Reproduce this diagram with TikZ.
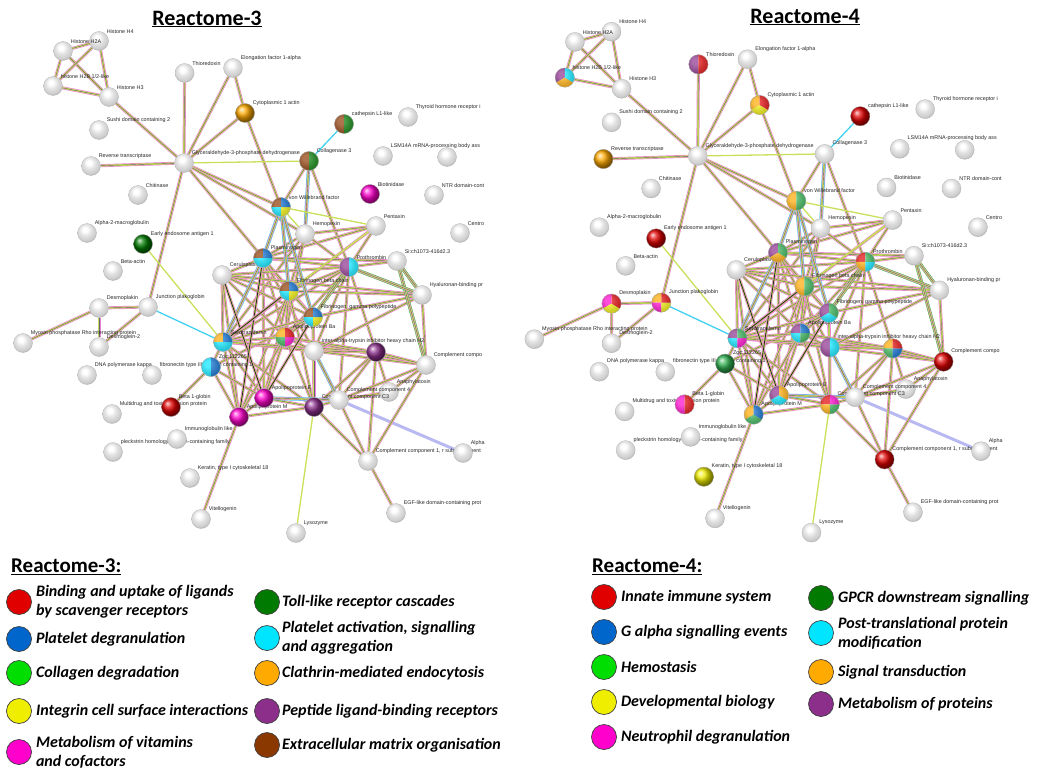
\documentclass[tikz,border=0pt]{standalone}
\usepackage{fontspec}
\setmainfont{Carlito}
\newfontfamily\lblfont{Liberation Sans}
\usetikzlibrary{positioning, backgrounds}
\definecolor{LgRed}{HTML}{E00000}
\definecolor{LgBlue}{HTML}{0066CC}
\definecolor{LgGreen}{HTML}{00DD00}
\definecolor{LgYellow}{HTML}{F0EE00}
\definecolor{LgMagenta}{HTML}{FF00CC}
\definecolor{LgDkGreen}{HTML}{007A00}
\definecolor{LgCyan}{HTML}{00E5FF}
\definecolor{LgOrange}{HTML}{FFAA00}
\definecolor{LgPurple}{HTML}{8B2F8B}
\definecolor{LgBrown}{HTML}{8B3800}
\definecolor{NdGreen}{HTML}{30B050}
\definecolor{EdPink}{HTML}{F07CE0}
\definecolor{EdYg}{HTML}{C8E05A}
\definecolor{EdGrey}{HTML}{666666}
\definecolor{EdCyan}{HTML}{40D0F0}
\definecolor{EdGreen}{HTML}{3CC83C}
\definecolor{EdBlue}{HTML}{8080E8}

\pgfdeclareradialshading{protball}{\pgfqpoint{-6bp}{10bp}}{%
  color(0bp)=(white); color(6bp)=(white); color(16bp)=(black!12);
  color(26bp)=(black!20); color(33bp)=(black!36); color(60bp)=(black!50)}

\tikzset{
  prot/.style={circle, minimum size=19pt, inner sep=0pt, shading=protball,
    draw=gray!60, line width=0.3pt},
  lbl/.style={font=\lblfont\fontsize{5.4}{5.4}\selectfont, text=black!85, inner sep=0.8pt},
  lk/.style={draw=EdGrey, line width=0.4pt, preaction={draw=EdPink, line width=3pt},
    preaction={draw=EdYg, line width=1.8pt}},
  lkc/.style={draw=EdGrey, line width=0.4pt, preaction={draw=EdCyan, line width=3.6pt},
    preaction={draw=EdPink, line width=2.6pt}, preaction={draw=EdYg, line width=1.6pt}},
  lkn/.style={draw=EdGrey, line width=0.4pt, preaction={draw=EdGreen, line width=3.6pt},
    preaction={draw=EdPink, line width=2.6pt}, preaction={draw=EdYg, line width=1.6pt}},
  lkd/.style={draw=black!85, line width=0.8pt, preaction={draw=EdPink, line width=3pt},
    preaction={draw=EdYg, line width=1.8pt}},
  lky/.style={draw=EdYg, line width=1.3pt},
  lkcy/.style={draw=EdCyan, line width=1.3pt},
  lkb/.style={draw=EdBlue, line width=3pt, opacity=0.55},
  ttl/.style={font=\bfseries\fontsize{22}{24}\selectfont, inner sep=1pt},
  legttl/.style={font=\bfseries\fontsize{21}{23}\selectfont, inner sep=1pt, anchor=west},
  legdot/.style={circle, minimum size=25pt, inner sep=0pt, draw=black!75, line width=0.7pt},
  legtxt/.style={font=\bfseries\itshape\fontsize{16}{19}\selectfont, align=left, inner sep=1pt}
}

% coloured pie over a protein node: node, number of parts, colours
\newcommand\pienode[3]{%
  \foreach \sc [count=\k from 0] in {#3} {
    \fill[\sc] (#1.center) -- ++({90+\k*360/#2}:9.5pt)
      arc[start angle={90+\k*360/#2}, delta angle={360/#2}, radius=9.5pt] -- cycle;
  }
  \shade[ball color=white, opacity=0.3] (#1.center) circle[radius=9.5pt];
  \draw[gray!60, line width=0.3pt] (#1.center) circle[radius=9.5pt];
}
\newcommand\ballnode[2]{%
  \shade[ball color=#2] (#1.center) circle[radius=9.5pt];
  \draw[gray!60, line width=0.3pt] (#1.center) circle[radius=9.5pt];
}

% the STRING network, #1 = prefix of the node names
\newcommand\drawnet[1]{%
  \node[prot, label={[lbl]45:Histone H4}] (#1h4) at (99,41) {};
  \node[prot, label={[lbl]45:Histone H2A}] (#1h2a) at (63,51) {};
  \node[prot, label={[lbl]45:histone H2B 1/2-like}] (#1h2b) at (53,86) {};
  \node[prot, label={[lbl]45:Histone H3}] (#1h3) at (109,97) {};
  \node[prot, label={[lbl]45:Thioredoxin}] (#1trx) at (184.6,73) {};
  \node[prot, label={[lbl]45:Elongation factor 1-alpha}] (#1ef1a) at (233,68) {};
  \node[prot, label={[lbl]45:Cytoplasmic 1 actin}] (#1actc) at (245,113) {};
  \node[prot, label={[lbl]45:Sushi domain containing 2}] (#1sushi) at (99,130) {};
  \node[prot, label={[lbl]45:cathepsin L1-like}] (#1ctsl) at (344,124) {};
  \node[prot, label={[lbl]45:Thyroid hormone receptor i}] (#1thr) at (408,117) {};
  \node[prot, label={[lbl]45:Reverse transcriptase}] (#1rt) at (91,166) {};
  \node[prot, label={[lbl]45:Glyceraldehyde-3-phosphate dehydrogenase}] (#1gapdh) at (184,163) {};
  \node[prot, label={[lbl]45:Collagenase 3}] (#1col3) at (309,161) {};
  \node[prot, label={[lbl]45:LSM14A mRNA-processing body ass}] (#1lsm) at (383,156) {};
  \node[prot] (#1lsmb) at (447,157) {};
  \node[prot, label={[lbl]45:Chitinase}] (#1chit) at (138,195) {};
  \node[prot, label={[lbl]45:Biotinidase}] (#1btd) at (370,194) {};
  \node[prot, label={[lbl]45:NTR domain-cont}] (#1ntr) at (434,195) {};
  \node[prot, label={[lbl]45:von Willebrand factor}] (#1vwf) at (281,207) {};
  \node[prot, label={[lbl]45:Alpha-2-macroglobulin}] (#1a2m) at (87,233) {};
  \node[prot, label={[lbl]45:Early endosome antigen 1}] (#1eea1) at (143,244) {};
  \node[prot, label={[lbl]45:Hemopexin}] (#1hpx) at (305,234) {};
  \node[prot, label={[lbl]45:Pentaxin}] (#1ptx) at (376,226) {};
  \node[prot, label={[lbl]45:Centro}] (#1centro) at (460,233) {};
  \node[prot, label={[lbl]45:Beta-actin}] (#1bact) at (113,271) {};
  \node[prot, label={[lbl]45:Plasminogen}] (#1plg) at (263,258) {};
  \node[prot, label={[lbl]45:Prothrombin}] (#1f2) at (349,267) {};
  \node[prot, label={[lbl]45:{Si:ch1073-416d2.3}}] (#1sich) at (397,261) {};
  \node[prot, label={[lbl]45:Ceruloplasmin}] (#1cp) at (222,275) {};
  \node[prot, label={[lbl]45:Fibrinogen beta chain}] (#1fgb) at (289,291) {};
  \node[prot, label={[lbl]45:{Fibrinogen, gamma polypeptide}}] (#1fgg) at (313,317) {};
  \node[prot, label={[lbl]45:Hyaluronan-binding pr}] (#1habp) at (422,295) {};
  \node[prot, label={[lbl]45:Desmoplakin}] (#1dsp) at (99,308) {};
  \node[prot, label={[lbl]45:Junction plakoglobin}] (#1jup) at (148,307) {};
  \node[prot, label={[lbl]45:Myosin phosphatase Rho interacting protein}] (#1mprip) at (23,343) {};
  \node[prot, label={[lbl]45:Desmoglein-2}] (#1dsg2) at (99,347) {};
  \node[prot, label={[lbl]45:Serotransferrin}] (#1tf) at (223,342) {};
  \node[prot, label={[lbl]45:Apolipoprotein Ba}] (#1apoba) at (285,337) {};
  \node[prot, label={[lbl]45:inter-alpha-trypsin inhibitor heavy chain H2}] (#1itih) at (314,351) {};
  \node[prot] (#1pcr) at (376,352) {};
  \node[prot, label={[lbl]45:Complement compo}] (#1cpn) at (426,365) {};
  \node[prot, label={[lbl]45:DNA polymerase kappa}] (#1dpk) at (87,375) {};
  \node[prot, label={[lbl]45:fibronectin type III domain containing 1}] (#1fndc) at (152,375) {};
  \node[prot, label={[lbl]45:{Zgc:112265}}] (#1zgc) at (211,367) {};
  \node[prot, label={[lbl]45:Anaphylatoxin}] (#1anaph) at (389,392) {};
  \node[prot, label={[lbl]45:Complement component C3}] (#1c3) at (314,407) {};
  \node[prot, label={[lbl]45:Complement component 4}] (#1c4) at (339,400) {};
  \node[prot, label={[lbl]45:Apolipoprotein M}] (#1apom) at (239,417) {};
  \node[prot, label={[lbl]45:Apolipoprotein E}] (#1apoe) at (264,398) {};
  \node[prot, label={[lbl]45:Multidrug and toxin extrusion protein}] (#1mate) at (112,414) {};
  \node[prot, label={[lbl]45:Beta 1-globin}] (#1hbb) at (171,407) {};
  \node[prot, label={[lbl]45:pleckstrin homology domain-containing family}] (#1plekh) at (113,452) {};
  \node[prot, label={[lbl]45:Immunoglobulin like}] (#1igl) at (177,439) {};
  \node[prot, label={[lbl]45:{Complement component 1, r subcomponent}}] (#1c1r) at (368,461) {};
  \node[prot, label={[lbl]45:Alpha}] (#1alpha) at (463,453) {};
  \node[prot, label={[lbl]45:{Keratin, type I cytoskeletal 18}}] (#1krt) at (190,478) {};
  \node[prot, label={[lbl]45:EGF-like domain-containing prot}] (#1egf) at (396,513) {};
  \node[prot, label={[lbl]45:Vitellogenin}] (#1vtg) at (201,519) {};
  \node[prot, label={[lbl]45:Lysozyme}] (#1lyz) at (296,533) {};
  % interactions
  \begin{scope}[on background layer]
    \draw[lkb] (#1f2) -- (#1habp);
    \draw[lkb] (#1c4) -- (#1alpha);
    \foreach \a/\b in {h2a/h4, h2a/h2b, h2a/h3, h4/h2b, h4/h3, h2b/h3, h3/gapdh,
      trx/gapdh, ef1a/gapdh, ef1a/actc, actc/gapdh, actc/vwf, rt/gapdh, gapdh/vwf,
      gapdh/hpx, gapdh/plg, col3/vwf, col3/f2, ptx/hpx, ptx/plg, ptx/f2, ptx/tf,
      hpx/plg, hpx/f2, hpx/fgb, hpx/apoba, hpx/tf, plg/f2, plg/fgb, plg/fgg,
      plg/apoba, plg/cp, plg/itih, plg/apoe, plg/sich, f2/sich, f2/fgb, f2/tf,
      f2/itih, f2/pcr, f2/c4, f2/apoba, f2/cp, cp/tf, cp/fgb, cp/fgg, cp/apoba,
      cp/habp, cp/apom, fgb/fgg, fgb/tf, fgb/apoba, fgb/habp, fgb/apoe, fgb/apom,
      fgb/c3, fgg/habp, fgg/tf, fgg/apoba, fgg/itih, fgg/c3, fgg/zgc, tf/apoba,
      tf/zgc, tf/itih, tf/apoe, tf/apom, tf/c3, tf/pcr, apoba/itih, apoba/apoe,
      apoba/apom, apoba/c3, apoba/cpn, apoba/pcr, itih/pcr, itih/c3, itih/cpn,
      itih/habp, pcr/cpn, pcr/c4, pcr/c1r, pcr/anaph, pcr/c3, cpn/habp, cpn/c4,
      cpn/c1r, cpn/anaph, c4/c1r, c4/anaph, c3/c4, c3/c1r, c3/apoe, c3/apom,
      c1r/egf, apoe/apom, apoe/zgc, apom/vtg, apom/zgc, hbb/zgc, dsp/jup,
      dsp/dsg2, dsp/mprip, jup/dsg2, gapdh/jup}
      \draw[lk] (#1\a) -- (#1\b);
    \foreach \a/\b in {vwf/plg, vwf/fgb, vwf/fgg, col3/hpx, plg/tf, itih/c4,
      apoe/c4}
      \draw[lkc] (#1\a) -- (#1\b);
    \foreach \a/\b in {sich/habp, sich/cpn, f2/fgg, f2/habp}
      \draw[lkn] (#1\a) -- (#1\b);
    \foreach \a/\b in {cp/apoe, fgg/apoe, plg/apom, tf/fgb}
      \draw[lkd] (#1\a) -- (#1\b);
    \foreach \a/\b in {gapdh/col3, eea1/tf, vwf/ptx, vwf/hpx, c3/lyz, ptx/fgb}
      \draw[lky] (#1\a) -- (#1\b);
    \foreach \a/\b in {ctsl/col3, jup/tf}
      \draw[lkcy] (#1\a) -- (#1\b);
  \end{scope}
}

\begin{document}
\begin{tikzpicture}[x=1pt, y=-1pt]
\useasboundingbox (0,0) rectangle (1051,773);

% Reactome-3 network
\node[ttl] (t3) at (207,19) {\underline{Reactome-3}};
\drawnet{a}
\pienode{actsl}{2}{LgBrown,LgDkGreen}
\pienode{acol3}{2}{LgBrown,LgDkGreen}
\ballnode{aactc}{LgOrange}
\ballnode{abtd}{LgMagenta}
\ballnode{aeea1}{LgDkGreen}
\pienode{avwf}{4}{LgBrown,LgCyan,LgYellow,LgBlue}
\pienode{aplg}{4}{LgBrown,LgCyan,LgCyan,LgBlue}
\pienode{af2}{2}{LgPurple,LgCyan}
\pienode{afgb}{4}{LgBrown,LgCyan,LgYellow,LgBlue}
\pienode{afgg}{4}{LgBrown,LgCyan,LgYellow,LgBlue}
\pienode{atf}{4}{LgOrange,LgCyan,LgCyan,LgBlue}
\pienode{aapoba}{4}{LgOrange,NdGreen,LgMagenta,LgRed}
\pienode{azgc}{2}{LgCyan,LgBlue}
\ballnode{apcr}{LgPurple}
\ballnode{ac3}{LgPurple}
\ballnode{aapom}{LgMagenta}
\ballnode{aapoe}{LgMagenta}
\ballnode{ahbb}{LgRed}

% Reactome-4 network
\node[ttl] (t4) at (805,17) {\underline{Reactome-4}};
\begin{scope}[shift={(511,-10)}, xscale=1.015, yscale=1.018]
\drawnet{b}
\pienode{bh2b}{3}{LgPurple,LgOrange,LgCyan}
\pienode{btrx}{2}{LgPurple,LgRed}
\pienode{bactc}{3}{LgOrange,LgYellow,LgRed}
\ballnode{bctsl}{LgRed}
\ballnode{brt}{LgOrange}
\pienode{bvwf}{2}{LgOrange,NdGreen}
\ballnode{beea1}{LgRed}
\pienode{bplg}{3}{LgPurple,LgOrange,NdGreen}
\pienode{bf2}{4}{LgRed,LgOrange,LgCyan,NdGreen}
\pienode{bfgb}{2}{LgOrange,NdGreen}
\pienode{bfgg}{3}{LgPurple,LgCyan,NdGreen}
\pienode{bdsp}{3}{LgMagenta,LgYellow,LgRed}
\pienode{bjup}{4}{LgOrange,LgMagenta,LgYellow,LgRed}
\pienode{btf}{4}{LgPurple,LgCyan,LgMagenta,NdGreen}
\pienode{bapoba}{4}{LgPurple,LgCyan,NdGreen,LgBlue}
\pienode{bitih}{2}{LgPurple,LgCyan}
\pienode{bpcr}{4}{LgOrange,NdGreen,LgBlue,LgRed}
\ballnode{bcpn}{LgRed}
\ballnode{bzgc}{NdGreen}
\pienode{bc3}{4}{LgRed,LgOrange,NdGreen,LgMagenta}
\pienode{bapom}{3}{LgOrange,NdGreen,LgBlue}
\pienode{bapoe}{3}{LgPurple,LgCyan,LgOrange}
\pienode{bhbb}{2}{LgMagenta,LgRed}
\ballnode{bc1r}{LgRed}
\ballnode{bkrt}{LgYellow}
\end{scope}

% legend Reactome-3
\node[legttl] (lg3) at (10,567) {\underline{Reactome-3:}};
\node[legdot, fill=LgRed] (l3a) at (19,602) {};
\node[legtxt, right=3pt of l3a] {Binding and uptake of ligands\\by scavenger receptors};
\node[legdot, fill=LgBlue] (l3b) at (19,639) {};
\node[legtxt, right=3pt of l3b] {Platelet degranulation};
\node[legdot, fill=LgGreen] (l3c) at (19,673) {};
\node[legtxt, right=3pt of l3c] {Collagen degradation};
\node[legdot, fill=LgYellow] (l3d) at (19,711) {};
\node[legtxt, right=3pt of l3d] {Integrin cell surface interactions};
\node[legdot, fill=LgMagenta] (l3e) at (19,752) {};
\node[legtxt, right=3pt of l3e] {Metabolism of vitamins\\and cofactors};
\node[legdot, fill=LgDkGreen] (l3f) at (267,602) {};
\node[legtxt, right=1pt of l3f] {Toll-like receptor cascades};
\node[legdot, fill=LgCyan] (l3g) at (267,638) {};
\node[legtxt, right=1pt of l3g] {Platelet activation, signalling\\and aggregation};
\node[legdot, fill=LgOrange] (l3h) at (267,673) {};
\node[legtxt, right=1pt of l3h] {Clathrin-mediated endocytosis};
\node[legdot, fill=LgPurple] (l3i) at (267,711) {};
\node[legtxt, right=1pt of l3i] {Peptide ligand-binding receptors};
\node[legdot, fill=LgBrown] (l3j) at (267,745) {};
\node[legtxt, right=1pt of l3j] {Extracellular matrix organisation};

% legend Reactome-4
\node[legttl] (lg4) at (591,567) {\underline{Reactome-4:}};
\node[legdot, fill=LgRed] (l4a) at (604,597) {};
\node[legtxt, right=3pt of l4a] {Innate immune system};
\node[legdot, fill=LgBlue] (l4b) at (604,632) {};
\node[legtxt, right=3pt of l4b] {G alpha signalling events};
\node[legdot, fill=LgGreen] (l4c) at (604,667) {};
\node[legtxt, right=3pt of l4c] {Hemostasis};
\node[legdot, fill=LgYellow] (l4d) at (604,702) {};
\node[legtxt, right=3pt of l4d] {Developmental biology};
\node[legdot, fill=LgMagenta] (l4e) at (604,737) {};
\node[legtxt, right=3pt of l4e] {Neutrophil degranulation};
\node[legdot, fill=LgDkGreen] (l4f) at (821,598) {};
\node[legtxt, right=3pt of l4f] {GPCR downstream signalling};
\node[legdot, fill=LgCyan] (l4g) at (821,633) {};
\node[legtxt, right=3pt of l4g] {Post-translational protein\\modification};
\node[legdot, fill=LgOrange] (l4h) at (821,672) {};
\node[legtxt, right=3pt of l4h] {Signal transduction};
\node[legdot, fill=LgPurple] (l4i) at (821,704) {};
\node[legtxt, right=3pt of l4i] {Metabolism of proteins};

\end{tikzpicture}
\end{document}
